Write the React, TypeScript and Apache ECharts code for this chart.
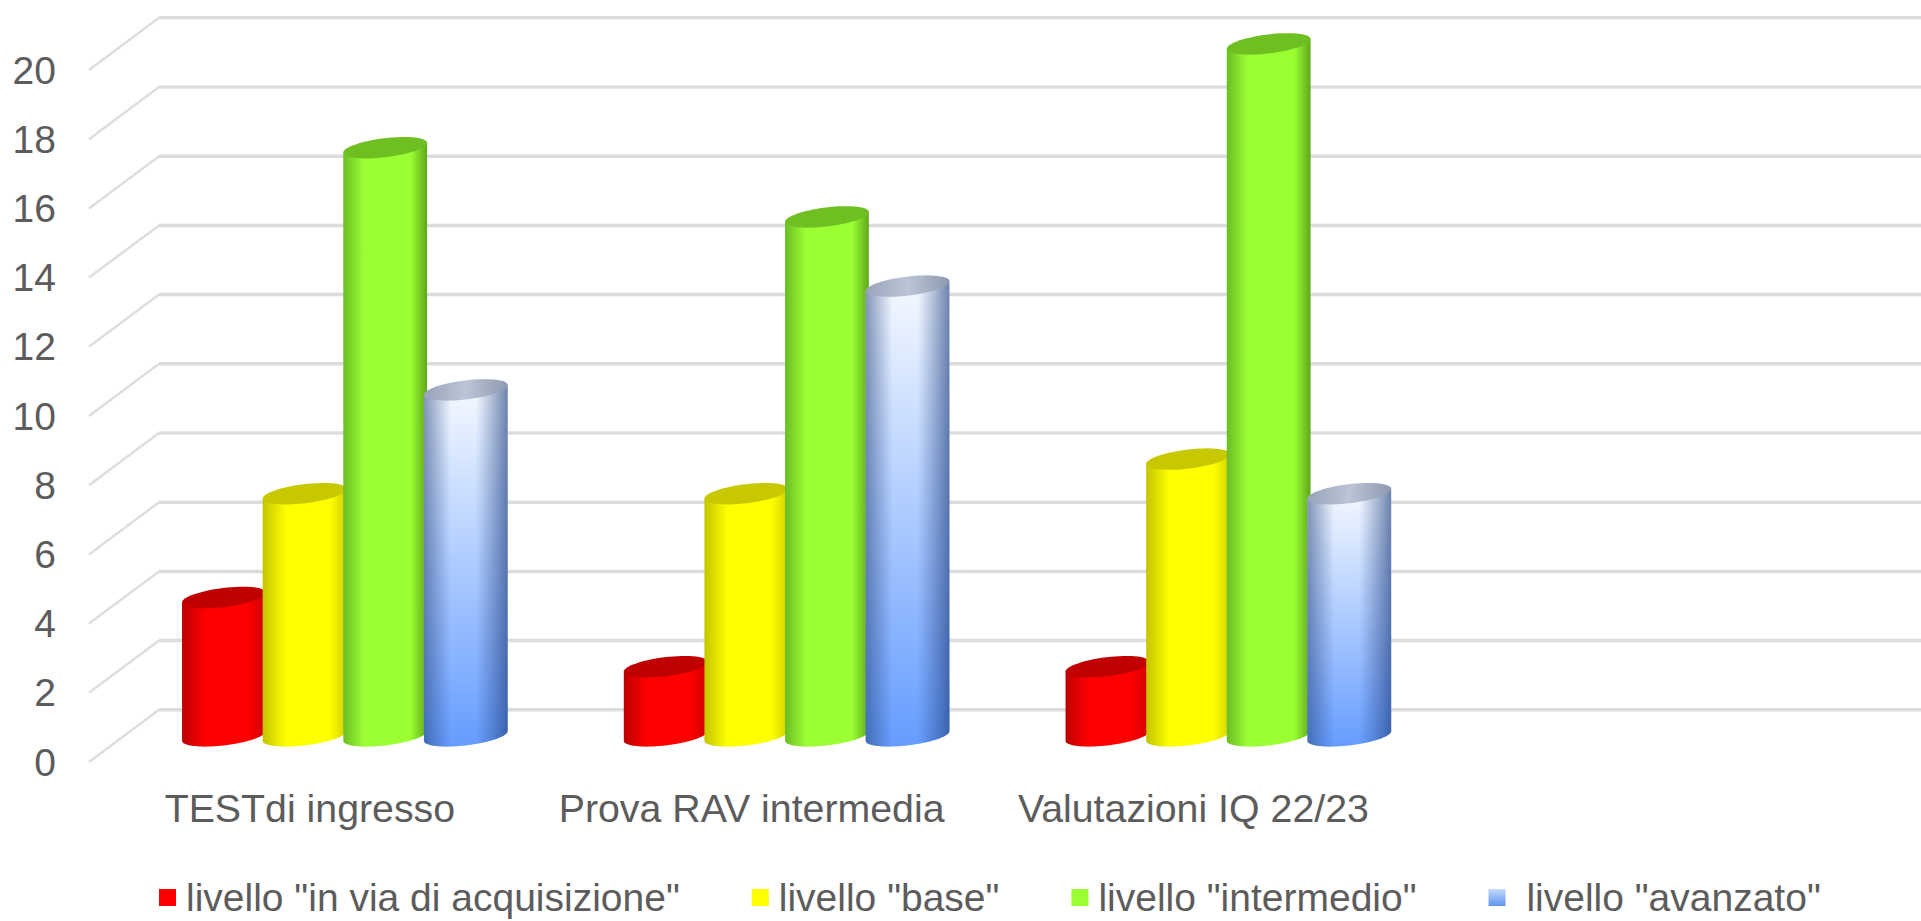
import React, { useEffect, useRef } from "react";
import * as echarts from "echarts";

const categories = ["TESTdi ingresso", "Prova RAV intermedia", "Valutazioni IQ 22/23", ""];
const tickValues = [0, 2, 4, 6, 8, 10, 12, 14, 16, 18, 20];
const inViaDiAcquisizione = [4, 2, 2];
const base = [7, 7, 8];
const intermedio = [17, 15, 20];
const avanzato = [10, 13, 7];

const names = [
  'livello "in via di acquisizione"',
  'livello "base"',
  'livello "intermedio"',
  'livello "avanzato"',
];
const valuesBySeries = [inViaDiAcquisizione, base, intermedio, avanzato];

const DEPTH_X = 70;
const DEPTH_Y = 52.2;
const TILT = (-7 * Math.PI) / 180;
const A_RATIO = 0.0955;
const B = 9.5;
const PITCH_RATIO = 0.1825;

const linear = (x2: number, y2: number, stops: [number, string][]) =>
  new echarts.graphic.LinearGradient(
    0,
    0,
    x2,
    y2,
    stops.map(([offset, color]) => ({ offset, color }))
  );

const bodyFills = [
  () => linear(1, 0, [[0, "#bd0000"], [0.28, "#ff0000"], [0.78, "#ff0000"], [1, "#cf0000"]]),
  () => linear(1, 0, [[0, "#c4c400"], [0.28, "#ffff00"], [0.8, "#ffff00"], [1, "#d0d000"]]),
  () => linear(1, 0, [[0, "#6cbc24"], [0.25, "#9bff33"], [0.8, "#9bff33"], [1, "#5fa81a"]]),
  () => linear(0, 1, [[0, "#f5f9ff"], [1, "#659cff"]]),
];
const topFills = [
  () => "#c00000",
  () => "#c8c800",
  () => "#6fbf22",
  () => linear(1, 0, [[0, "#98a4ba"], [0.5, "#bcc5d6"], [1, "#8d99b0"]]),
];

function ellipsePoint(cx: number, cy: number, a: number, t: number) {
  return [
    cx + a * Math.cos(t) * Math.cos(TILT) - B * Math.sin(t) * Math.sin(TILT),
    cy + a * Math.cos(t) * Math.sin(TILT) + B * Math.sin(t) * Math.cos(TILT),
  ];
}

function cylinder(seriesIndex: number) {
  return (_params: any, api: any) => {
    const band = api.size([1, 0])[0];
    const top = api.coord([api.value(0), api.value(1)]);
    const bottom = api.coord([api.value(0), 0]);
    const cx = top[0] + DEPTH_X / 2 + (seriesIndex - 1.5) * band * PITCH_RATIO;
    const cyTop = top[1] - DEPTH_Y / 2;
    const cyBottom = bottom[1] - DEPTH_Y / 2;
    const a = band * A_RATIO;
    const t0 = Math.atan2(-B * Math.sin(TILT), a * Math.cos(TILT));

    const body: number[][] = [ellipsePoint(cx, cyTop, a, t0)];
    for (let i = 0; i <= 40; i++) {
      body.push(ellipsePoint(cx, cyBottom, a, t0 + (Math.PI * i) / 40));
    }
    body.push(ellipsePoint(cx, cyTop, a, t0 + Math.PI));

    const cap: number[][] = [];
    for (let i = 0; i < 60; i++) {
      cap.push(ellipsePoint(cx, cyTop, a, (2 * Math.PI * i) / 60));
    }

    const children: any[] = [
      { type: "polygon", shape: { points: body }, style: { fill: bodyFills[seriesIndex]() } },
    ];
    if (seriesIndex === 3) {
      children.push({
        type: "polygon",
        shape: { points: body },
        style: {
          fill: linear(1, 0, [
            [0, "rgba(40,70,125,0.55)"],
            [0.32, "rgba(40,70,125,0)"],
            [0.62, "rgba(40,70,125,0)"],
            [1, "rgba(30,60,125,0.62)"],
          ]),
        },
      });
    }
    children.push({
      type: "polygon",
      shape: { points: cap },
      style: { fill: topFills[seriesIndex]() },
    });
    return { type: "group", children };
  };
}

function gridLines(params: any, api: any) {
  const p = api.coord([0, api.value(1)]);
  const x = params.coordSys.x;
  const right = params.coordSys.x + params.coordSys.width + DEPTH_X;
  return {
    type: "group",
    children: [
      {
        type: "line",
        shape: { x1: x, y1: p[1], x2: x + DEPTH_X, y2: p[1] - DEPTH_Y },
        style: { stroke: "#dedede", lineWidth: 2.5, fill: "none" },
      },
      {
        type: "line",
        shape: { x1: x + DEPTH_X, y1: p[1] - DEPTH_Y, x2: right, y2: p[1] - DEPTH_Y },
        style: { stroke: "#dcdcdc", lineWidth: 3.5, fill: "none" },
      },
    ],
  };
}

export default function App() {
  const ref = useRef<HTMLDivElement>(null);

  useEffect(() => {
    const chart = echarts.init(ref.current!, null, { renderer: "svg" });
    const font = "'Liberation Sans', Arial, sans-serif";
    chart.setOption({
      animation: false,
      backgroundColor: "#ffffff",
      grid: { left: 89, right: 65, top: 70, bottom: 159, containLabel: false },
      xAxis: {
        type: "category",
        data: categories,
        axisLine: { show: false },
        axisTick: { show: false },
        splitLine: { show: false },
        axisLabel: {
          interval: 0,
          margin: 26,
          fontFamily: font,
          fontSize: 39.3,
          color: "#5c5c5c",
        },
      },
      yAxis: {
        type: "value",
        min: 0,
        max: 20,
        interval: 2,
        axisLine: { show: false },
        axisTick: { show: false },
        splitLine: { show: false },
        axisLabel: {
          margin: 33,
          fontFamily: font,
          fontSize: 39,
          color: "#5c5c5c",
        },
      },
      legend: {
        left: 159,
        top: 878,
        itemWidth: 17,
        itemHeight: 17,
        itemGap: 72,
        icon: "rect",
        selectedMode: false,
        padding: 0,
        formatter: (name: string) => (name === names[3] ? "\u00a0" + name : name),
        textStyle: {
          fontFamily: font,
          fontSize: 39,
          color: "#5c5c5c",
          padding: [0, 0, 0, 5],
        },
        data: [
          { name: names[0], itemStyle: { color: "#ff0000" } },
          { name: names[1], itemStyle: { color: "#ffff00" } },
          { name: names[2], itemStyle: { color: "#99ff33" } },
          {
            name: names[3],
            itemStyle: { color: linear(0, 1, [[0, "#c5d9fb"], [1, "#5f95f0"]]) },
          },
        ],
      },
      series: [
        {
          type: "custom",
          name: "griglia",
          silent: true,
          clip: false,
          z: 1,
          renderItem: gridLines,
          encode: { x: 0, y: 1 },
          data: tickValues.map((v) => [0, v]),
        },
        ...names.map((name, s) => ({
          type: "custom",
          name,
          silent: true,
          clip: false,
          z: 2 + s,
          renderItem: cylinder(s),
          encode: { x: 0, y: 1 },
          itemStyle: { color: ["#ff0000", "#ffff00", "#99ff33", "#6a9ff5"][s] },
          data: valuesBySeries[s].map((v, i) => [i, v]),
        })),
      ],
    });
    return () => chart.dispose();
  }, []);

  return (
    <div
      ref={ref}
      style={{ position: "absolute", left: 0, top: 0, width: 1921, height: 921 }}
    />
  );
}
